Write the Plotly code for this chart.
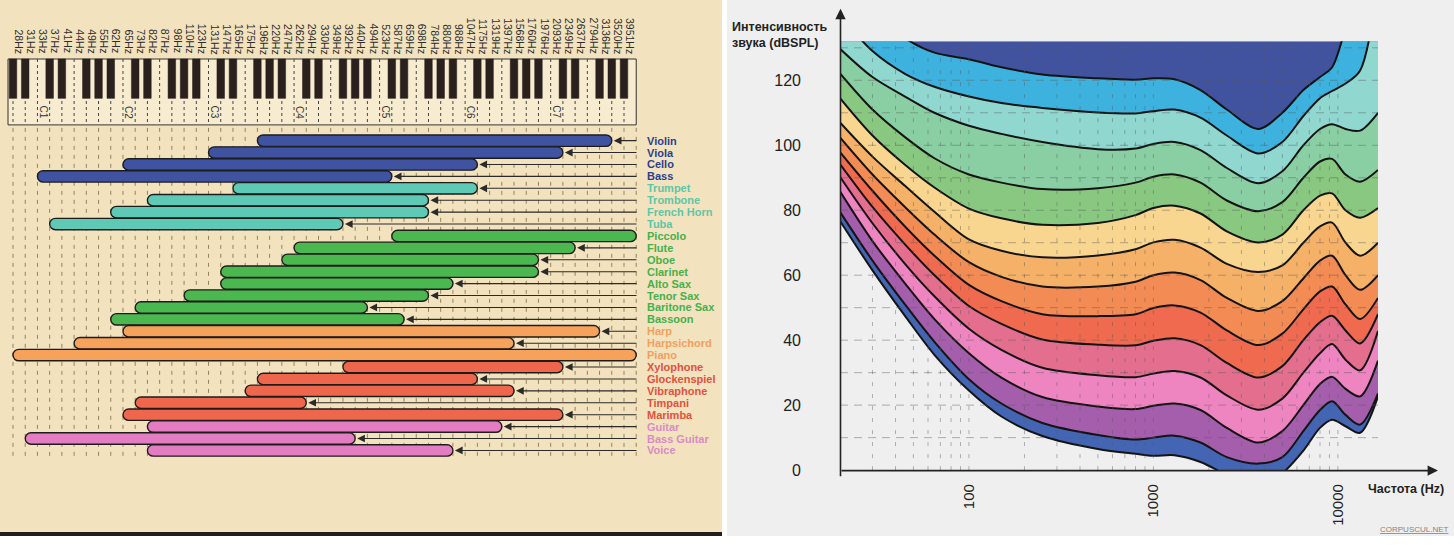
import numpy as np
import plotly.graph_objects as go

W, H = 1454, 545
FONT = "Liberation Sans, Arial, Helvetica, sans-serif"

# ---------------- LEFT PANEL DATA: piano keys & instrument ranges ----------------
key_labels = ["28Hz", "31Hz", "33Hz", "37Hz", "41Hz", "44Hz", "49Hz", "55Hz", "62Hz",
              "65Hz", "73Hz", "82Hz", "87Hz", "98Hz", "110Hz", "123Hz",
              "131Hz", "147Hz", "165Hz", "175Hz", "196Hz", "220Hz", "247Hz",
              "262Hz", "294Hz", "330Hz", "349Hz", "392Hz", "440Hz", "494Hz",
              "523Hz", "587Hz", "659Hz", "698Hz", "784Hz", "880Hz", "988Hz",
              "1047Hz", "1175Hz", "1319Hz", "1397Hz", "1568Hz", "1760Hz", "1976Hz",
              "2093Hz", "2349Hz", "2637Hz", "2794Hz", "3136Hz", "3520Hz", "3951Hz"]
key_letters = ["A", "B"] + ["C", "D", "E", "F", "G", "A", "B"] * 7
octave_labels = ["C1", "C2", "C3", "C4", "C5", "C6", "C7"]
octave_key_index = [2, 9, 16, 23, 30, 37, 44]

instruments = ["Violin", "Viola", "Cello", "Bass",
               "Trumpet", "Trombone", "French Horn", "Tuba",
               "Piccolo", "Flute", "Oboe", "Clarinet", "Alto Sax", "Tenor Sax",
               "Baritone Sax", "Bassoon",
               "Harp", "Harpsichord", "Piano",
               "Xylophone", "Glockenspiel", "Vibraphone", "Timpani", "Marimba",
               "Guitar", "Bass Guitar", "Voice"]
# range in white-key boundaries (0 = left edge of A0 key, 51 = right edge of B7 key)
range_start = [20, 16, 9, 2, 18, 11, 8, 3, 31, 23, 22, 17, 17, 14, 10, 8,
               9, 5, 0, 27, 20, 19, 10, 9, 11, 1, 11]
range_end = [49, 45, 38, 31, 38, 34, 34, 27, 51, 46, 43, 43, 36, 34, 29, 32,
             48, 41, 51, 45, 38, 41, 24, 45, 40, 28, 36]
family = ["str"] * 4 + ["brass"] * 4 + ["wood"] * 8 + ["keys"] * 3 + ["perc"] * 5 + ["other"] * 3

bar_colors = {"str": "#3F53A1", "brass": "#5ECAB5", "wood": "#4BB74F",
              "keys": "#F6A25A", "perc": "#EE674C", "other": "#E47CC2"}
label_colors = {"str": "#2E3E8E", "brass": "#5CC6A7", "wood": "#46B04B",
                "keys": "#F39F5E", "perc": "#E4503D", "other": "#D98BC3"}

# ---------------- RIGHT PANEL DATA: equal-loudness contours ----------------
freq_hz = [20, 30, 45, 65, 100, 150, 250, 500, 800, 1000, 1300, 1800, 2500,
           3700, 5000, 6500, 8000, 9300, 11000, 13200, 16500]
threshold = [76.7, 61.5, 47.5, 35.5, 24.5, 16.5, 10.5, 6.5, 5, 4.4, 4.6, 2.5, -1.5, -6, -1, 6, 13, 15.5, 13.5, 11.5, 22.7]
phon10 = [79.5, 64.5, 51, 39.5, 28, 20.5, 14.5, 10.8, 9.4, 10, 10.6, 8.5, 4, 2, 4, 12, 18.5, 21.2, 17, 14, 23.6]
phon20 = [85.8, 70.5, 57.5, 46.5, 36, 28.5, 22.5, 19.6, 18.8, 19.8, 20.5, 18.5, 13, 8.5, 12, 20, 26.5, 28.7, 25, 22.7, 33.7]
phon30 = [90.3, 76, 63.5, 53.5, 43.5, 37, 31.5, 29.2, 28.6, 29.7, 30.5, 28.5, 23, 18.6, 22, 30, 36, 38.8, 34, 30.7, 42.8]
phon40 = [94.2, 81, 69.5, 60, 50.5, 45, 40.2, 38.6, 38.4, 39.8, 40.6, 38.5, 33, 28.5, 32, 40, 45.5, 47.5, 43, 39, 48]
phon50 = [97.9, 86, 75, 66, 57, 52, 48, 47.4, 48, 49.9, 50.7, 48.5, 43, 38.5, 42, 49.5, 55, 56.5, 51, 46.5, 53]
phon60 = [102.4, 91, 81, 72.5, 64, 59.5, 56.5, 56.5, 58, 60, 60.8, 58.5, 53, 49, 52, 59, 64.5, 66, 60, 55.5, 60]
phon70 = [107, 96.5, 87.5, 79.5, 71, 67.5, 65.5, 66.1, 68, 70.1, 70.9, 68.5, 63.5, 61, 63, 70, 75, 76.2, 70, 66, 70]
phon80 = [114.5, 103, 94, 87, 80.5, 77.5, 75.5, 76.1, 78.5, 80.7, 81.4, 79, 73.5, 70.1, 72.5, 80, 84.5, 85.2, 80, 77.7, 80.7]
phon90 = [122.1, 111, 102.5, 96, 91, 88.5, 86.5, 86.8, 88.5, 90.3, 91, 88.5, 83, 79.7, 82.5, 90, 95, 95.8, 91, 88.8, 92.4]
phon100 = [129.7, 121, 115, 110, 106, 103.5, 101, 98.8, 99, 100.4, 101, 98.5, 93, 88.3, 92, 100, 105, 106.5, 105, 104.5, 110]
phon110 = [140, 129, 122, 118, 115, 113, 111.5, 110.1, 109.8, 110.5, 111, 108.5, 103, 97.5, 101, 109, 114.5, 116.7, 119, 123, 150]
phon120 = [150, 142, 133, 128.5, 126.5, 124, 121.8, 120.6, 120.2, 120.6, 120.3, 117, 111, 105, 110, 117, 121, 124, 136, 150, 160]
top_db = 132
band_colors = ["#4464B4", "#A55EAB", "#EE85C1", "#E46E8E", "#EF6A4E", "#F38B54",
               "#F6B168", "#F9D690", "#88C880", "#89CFA3", "#8FD7CF", "#3DB2DF", "#41539F"]
y_ticks = [0, 20, 40, 60, 80, 100, 120]
x_ticks = [100, 1000, 10000]
grid_db = [10, 20, 30, 40, 50, 60, 70, 80, 90, 100, 110, 120, 130]
grid_hz = [30, 40, 50, 60, 70, 80, 90, 100, 200, 300, 400, 500, 600, 700, 800, 900,
           1000, 2000, 3000, 4000, 5000, 6000, 7000, 8000, 9000, 10000]

# ---------------- geometry helpers ----------------
KEY0_PX, KEY_W = 13.0, 12.22      # left panel: pixel of boundary 0, key width
ROW0_PX, ROW_H = 143.0, 12.115    # left panel rows


def kx(px):
    return (px - KEY0_PX) / KEY_W


def row_y(i):
    return ROW0_PX + ROW_H * i


def px_x(px):
    return px / W


def px_y(py):
    return 1 - py / H


fig = go.Figure()
shapes = []
annotations = []

# panel backgrounds
shapes.append(dict(type="rect", xref="paper", yref="paper", x0=0, x1=px_x(722), y0=0, y1=1,
                   fillcolor="#F2E3BE", line=dict(width=0), layer="below"))
shapes.append(dict(type="rect", xref="paper", yref="paper", x0=px_x(727), x1=1, y0=0, y1=1,
                   fillcolor="#EFEFEF", line=dict(width=0), layer="below"))
shapes.append(dict(type="rect", xref="paper", yref="paper", x0=0, x1=px_x(722), y0=0, y1=px_y(541),
                   fillcolor="#221E1B", line=dict(width=0), layer="below"))

# ---- keyboard ----
n_keys = len(key_labels)
KB_TOP, KB_BOT, BK_BOT = 60, 127, 100
shapes.append(dict(type="rect", xref="x", yref="y", x0=kx(8), x1=n_keys, y0=KB_TOP, y1=KB_BOT,
                   fillcolor="#F7ECCF", line=dict(color="#333", width=1), layer="above"))
for b in range(0, n_keys):
    shapes.append(dict(type="line", xref="x", yref="y", x0=b, x1=b, y0=KB_TOP, y1=KB_BOT,
                       line=dict(color="#444", width=1, dash="dot"), layer="above"))
black_bounds = [0] + [k + 1 for k in range(n_keys - 1) if key_letters[k] in "ACDFG"]
for b in black_bounds:
    shapes.append(dict(type="rect", xref="x", yref="y", x0=b - 0.31, x1=b + 0.31, y0=KB_TOP, y1=BK_BOT,
                       fillcolor="#2A211F", line=dict(color="#2A211F", width=0.5), layer="above"))
for k, lab in enumerate(key_labels):
    annotations.append(dict(xref="x", yref="y", x=k + 0.5, y=57, text=lab, showarrow=False,
                            textangle=90, xanchor="center", yanchor="bottom",
                            font=dict(family=FONT, size=10.5, color="#2d2d2d")))
for lab, k in zip(octave_labels, octave_key_index):
    annotations.append(dict(xref="x", yref="y", x=k + 0.5, y=114, text=lab, showarrow=False,
                            textangle=90, xanchor="center", yanchor="middle",
                            font=dict(family=FONT, size=10, color="#333")))

# ---- dashed guide lines ----
for b in range(0, n_keys + 1):
    shapes.append(dict(type="line", xref="x", yref="y", x0=b, x1=b, y0=130, y1=468,
                       line=dict(color="rgba(125,105,72,0.8)", width=1, dash="4px,5px"), layer="below"))

# ---- instrument bars ----
HH = 5.8
RX = HH / KEY_W
kk = 0.5523
for i, name in enumerate(instruments):
    y = row_y(i)
    s, e = range_start[i], range_end[i]
    if e < n_keys:
        tip = e + 2.0 / KEY_W
        annotations.append(dict(xref="x", yref="y", x=tip, y=y, ax=kx(638), ay=y,
                                axref="x", ayref="y", text="", showarrow=True,
                                arrowhead=2, arrowsize=1.4, arrowwidth=1.1, arrowcolor="#2a2a2a"))
    path = (f"M {s+RX},{y-HH} L {e-RX},{y-HH} "
            f"C {e-RX+kk*RX},{y-HH} {e},{y-kk*HH} {e},{y} "
            f"C {e},{y+kk*HH} {e-RX+kk*RX},{y+HH} {e-RX},{y+HH} "
            f"L {s+RX},{y+HH} "
            f"C {s+RX-kk*RX},{y+HH} {s},{y+kk*HH} {s},{y} "
            f"C {s},{y-kk*HH} {s+RX-kk*RX},{y-HH} {s+RX},{y-HH} Z")
    shapes.append(dict(type="path", xref="x", yref="y", path=path,
                       fillcolor=bar_colors[family[i]], line=dict(color="#1c1c1c", width=1.4),
                       layer="above"))
    annotations.append(dict(xref="x", yref="y", x=kx(645), y=y, text=f"<b>{name}</b>",
                            showarrow=False, xanchor="left", yanchor="middle",
                            font=dict(family=FONT, size=11, color=label_colors[family[i]])))

# ---------------- RIGHT PANEL ----------------
curves = [threshold, phon10, phon20, phon30, phon40, phon50, phon60, phon70,
          phon80, phon90, phon100, phon110, phon120]
LINE = dict(color="#141414", width=2, shape="spline", smoothing=0.9)
fig.add_trace(go.Scatter(x=freq_hz, y=curves[0], mode="lines", line=LINE,
                         xaxis="x2", yaxis="y2", showlegend=False, hoverinfo="skip"))
for i in range(1, len(curves)):
    fig.add_trace(go.Scatter(x=freq_hz, y=curves[i], mode="lines", line=LINE,
                             fill="tonexty", fillcolor=band_colors[i - 1],
                             xaxis="x2", yaxis="y2", showlegend=False, hoverinfo="skip"))
fig.add_trace(go.Scatter(x=freq_hz, y=[top_db] * len(freq_hz), mode="lines",
                         line=dict(width=0, color=band_colors[-1]),
                         fill="tonexty", fillcolor=band_colors[-1],
                         xaxis="x2", yaxis="y2", showlegend=False, hoverinfo="skip"))

# dashed grid drawn over the bands
gx, gy = [], []
for f in grid_hz:
    gx += [f, f, None]
    gy += [0, top_db, None]
fig.add_trace(go.Scatter(x=gx, y=gy, mode="lines", xaxis="x2", yaxis="y2",
                         line=dict(color="rgba(90,90,90,0.45)", width=1, dash="4px,8px"),
                         showlegend=False, hoverinfo="skip"))
hx, hy = [], []
for d in grid_db:
    hx += [freq_hz[0], freq_hz[-1], None]
    hy += [d, d, None]
fig.add_trace(go.Scatter(x=hx, y=hy, mode="lines", xaxis="x2", yaxis="y2",
                         line=dict(color="rgba(90,90,90,0.45)", width=1, dash="8px,6px"),
                         showlegend=False, hoverinfo="skip"))

# axis arrows
annotations.append(dict(xref="paper", yref="paper", x=px_x(840.5), y=px_y(9), ax=0, ay=478 - 9,
                        text="", showarrow=True, arrowhead=2, arrowsize=1.3, arrowwidth=1.6,
                        arrowcolor="#222"))
annotations.append(dict(xref="paper", yref="paper", x=px_x(1438), y=px_y(478.5), ax=-(1438 - 840), ay=0,
                        text="", showarrow=True, arrowhead=2, arrowsize=1.3, arrowwidth=1.6,
                        arrowcolor="#222"))
annotations.append(dict(xref="paper", yref="paper", x=px_x(730), y=px_y(36),
                        text="<b>Интенсивность</b><br><b>звука (dBSPL)</b>", showarrow=False,
                        xanchor="left", yanchor="middle", align="left",
                        font=dict(family=FONT, size=12.5, color="#222")))
annotations.append(dict(xref="paper", yref="paper", x=px_x(1366), y=px_y(497),
                        text="<b>Частота (Hz)</b>", showarrow=False,
                        xanchor="left", yanchor="middle",
                        font=dict(family=FONT, size=12.5, color="#222")))
annotations.append(dict(xref="paper", yref="paper", x=px_x(1451), y=px_y(538),
                        text="<u>CORPUSCUL.NET</u>", showarrow=False,
                        xanchor="right", yanchor="middle",
                        font=dict(family=FONT, size=8, color="#8a8080")))

fig.update_layout(
    width=W, height=H, margin=dict(l=0, r=0, t=0, b=0),
    paper_bgcolor="white", plot_bgcolor="rgba(0,0,0,0)",
    showlegend=False,
    xaxis=dict(domain=[0, px_x(722)], range=[kx(0), kx(722)], visible=False, fixedrange=True),
    yaxis=dict(domain=[0, 1], range=[H, 0], visible=False, fixedrange=True),
    xaxis2=dict(domain=[px_x(840), px_x(1378)], type="log",
                range=[np.log10(freq_hz[0]), np.log10(freq_hz[-1])],
                anchor="y2", showgrid=False, zeroline=False, showline=False,
                tickvals=x_ticks, ticktext=[str(v) for v in x_ticks], tickangle=-90,
                ticks="", ticklabelstandoff=10,
                tickfont=dict(family=FONT, size=15, color="#222")),
    yaxis2=dict(domain=[px_y(478), px_y(42)], range=[0, top_db], anchor="x2",
                showgrid=False, zeroline=False, showline=False,
                tickvals=y_ticks, ticks="", ticklabelstandoff=38,
                tickfont=dict(family=FONT, size=16, color="#222")),
    shapes=shapes, annotations=annotations,
)

fig.write_html("out.html", config={"displayModeBar": False},
               post_script="document.body.style.margin='0';document.body.style.padding='0';")
